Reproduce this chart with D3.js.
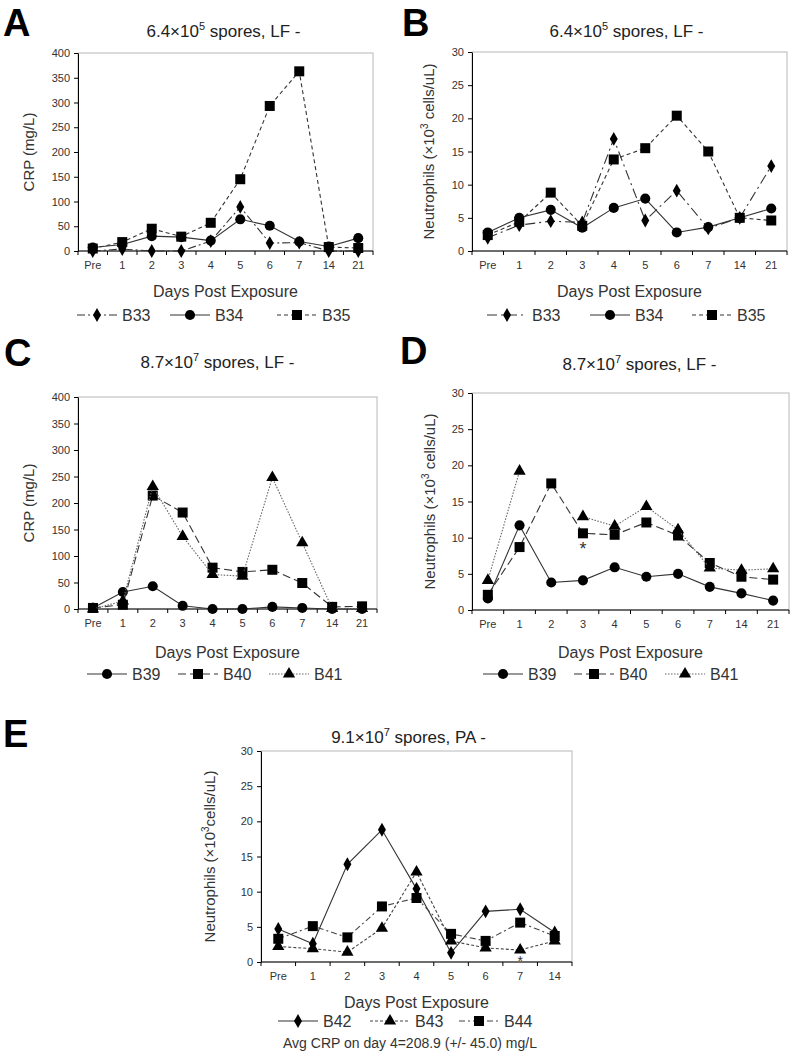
<!DOCTYPE html>
<meta charset="utf-8">
<script src="https://d3js.org/d3.v7.min.js"></script>
<style>
  body { margin: 0; background: #fff; }
  text { font-family: "Liberation Sans", Arial, sans-serif; }
</style>
<div id="chart"></div>
<script>
// categories
var days10 = ["Pre", "1", "2", "3", "4", "5", "6", "7", "14", "21"];
var days9 = ["Pre", "1", "2", "3", "4", "5", "6", "7", "14"];

// A - CRP, 6.4x10^5 spores
var crpB33 = [0, 4, 0, 0, 20, 89, 16, 17, 0, 0];
var crpB34 = [7, 13, 30, 28, 21, 64, 51, 19, 9, 26];
var crpB35 = [5, 18, 45, 29, 57, 145, 293, 363, 8, 6];

// B - neutrophils, 6.4x10^5 spores
var neuB33 = [2.0, 3.9, 4.5, 4.3, 16.9, 4.6, 9.1, 3.4, 5.0, 12.8];
var neuB34 = [2.8, 5.0, 6.2, 3.5, 6.5, 7.9, 2.8, 3.6, 5.0, 6.4];
var neuB35 = [2.4, 4.4, 8.8, 3.8, 13.8, 15.5, 20.4, 15.0, 5.0, 4.6];

// C - CRP, 8.7x10^7 spores
var crpB39 = [2, 32, 43, 6, 0, 0, 4, 2, 0, 0];
var crpB40 = [2, 8, 214, 182, 78, 70, 74, 49, 4, 5];
var crpB41 = [0, 15, 231, 137, 65, 62, 248, 125, 1, 1];

// D - neutrophils, 8.7x10^7 spores
var neuB39 = [1.6, 11.7, 3.8, 4.1, 5.9, 4.6, 5.0, 3.2, 2.3, 1.3];
var neuB40 = [2.1, 8.7, 17.5, 10.6, 10.4, 12.1, 10.3, 6.5, 4.6, 4.2];
var neuB41 = [4.1, 19.2, null, 12.9, 11.6, 14.3, 11.1, 5.8, 5.5, 5.7];

// E - neutrophils, 9.1x10^7 spores, PA
var neuB42 = [4.7, 2.6, 13.9, 18.8, 10.4, 1.3, 7.2, 7.5, 4.2];
var neuB43 = [2.2, 1.9, 1.4, 4.8, 12.8, 3.0, 2.0, 1.7, 3.0];
var neuB44 = [3.3, 5.1, 3.5, 7.9, 9.1, 4.0, 3.0, 5.6, 3.7];

var crpTicks = [0, 50, 100, 150, 200, 250, 300, 350, 400];
var neuTicks = [0, 5, 10, 15, 20, 25, 30];

var svg = d3.select("#chart").append("svg")
  .attr("width", 793)
  .attr("height", 1054);

var symbols = {
  circle: d3.symbol().type(d3.symbolCircle).size(80),
  square: d3.symbol().type(d3.symbolSquare).size(100),
  diamond: d3.symbol().type(d3.symbolDiamond).size(55),
  triangle: d3.symbol().type(d3.symbolTriangle).size(65)
};

function drawPanel(p) {
  var g = svg.append("g");
  var x = d3.scaleBand().domain(p.cats).range([p.left, p.right]);
  var y = d3.scaleLinear().domain([0, d3.max(p.ticks)]).range([p.bottom, p.top]);

  // grey frame
  g.append("rect")
    .attr("x", p.left).attr("y", p.top)
    .attr("width", p.right - p.left).attr("height", p.bottom - p.top)
    .attr("fill", "none").attr("stroke", "#b8b8b8");

  // y axis
  var ya = g.append("g")
    .attr("transform", "translate(" + p.left + ",0)")
    .call(d3.axisLeft(y).tickValues(p.ticks).tickSize(4).tickPadding(4).tickSizeOuter(0));
  ya.selectAll("text").attr("font-size", 11).attr("fill", "#333").style("font-family", "Liberation Sans, Arial, sans-serif");
  ya.select(".domain").attr("stroke", "#000");

  // x axis: labels at the band centres, ticks at band edges
  var xa = g.append("g")
    .attr("transform", "translate(0," + p.bottom + ")")
    .call(d3.axisBottom(x).tickSize(0).tickPadding(10));
  xa.selectAll("text").attr("font-size", 11).attr("fill", "#333").style("font-family", "Liberation Sans, Arial, sans-serif");
  xa.select(".domain").remove();
  g.append("line")
    .attr("x1", p.left).attr("x2", p.right)
    .attr("y1", p.bottom).attr("y2", p.bottom)
    .attr("stroke", "#000");
  var edges = p.cats.map(function(c) { return x(c); }).concat([x(p.cats[p.cats.length - 1]) + x.bandwidth()]);
  g.selectAll(".xt").data(edges).enter().append("line")
    .attr("x1", function(d) { return d; }).attr("x2", function(d) { return d; })
    .attr("y1", p.bottom).attr("y2", p.bottom + 4)
    .attr("stroke", "#000");

  var cx = function(i) { return x(p.cats[i]) + x.bandwidth() / 2; };

  // series lines + markers
  p.series.forEach(function(s) {
    var pts = s.values.map(function(v, i) { return {i: i, v: v}; });
    var line = d3.line()
      .defined(function(d) { return d.v != null; })
      .x(function(d) { return cx(d.i); })
      .y(function(d) { return y(d.v); });
    g.append("path")
      .datum(pts)
      .attr("d", line)
      .attr("fill", "none")
      .attr("stroke", s.color)
      .attr("stroke-width", 1.1)
      .attr("stroke-dasharray", s.dash);
    g.selectAll(null).data(pts.filter(function(d) { return d.v != null; })).enter().append("path")
      .attr("d", symbols[s.marker])
      .attr("transform", function(d) { return "translate(" + cx(d.i) + "," + y(d.v) + ")"; })
      .attr("fill", "#000");
  });

  // asterisks
  (p.stars || []).forEach(function(st) {
    g.append("text")
      .attr("x", cx(p.cats.indexOf(st.day)))
      .attr("y", y(st.value) + st.dy)
      .attr("text-anchor", "middle")
      .attr("font-size", st.size)
      .attr("fill", "#333")
      .text("*");
  });

  // title
  var mid = (p.left + p.right) / 2;
  var t = g.append("text")
    .attr("x", mid + p.titleDx).attr("y", p.titleY)
    .attr("text-anchor", "middle")
    .attr("font-size", 17)
    .attr("fill", "#222");
  t.append("tspan").text(p.title[0] + "\u00d710");
  t.append("tspan").attr("font-size", 11).attr("dy", -7).text(p.title[1]);
  t.append("tspan").attr("dy", 7).text(" " + p.title[2]);

  // panel letter
  g.append("text")
    .attr("x", p.letterX).attr("y", p.letterY)
    .attr("font-size", 38)
    .attr("font-weight", "bold")
    .attr("fill", "#000")
    .text(p.letter);

  // y label
  var yl = g.append("text")
    .attr("transform", "translate(" + p.ylabX + "," + ((p.top + p.bottom) / 2) + ") rotate(-90)")
    .attr("text-anchor", "middle")
    .attr("font-size", 15)
    .attr("fill", "#333");
  if (p.ylab.length === 1) {
    yl.text(p.ylab[0]);
  } else {
    yl.append("tspan").text(p.ylab[0]);
    yl.append("tspan").attr("font-size", 10).attr("dy", -6).text(p.ylab[1]);
    yl.append("tspan").attr("dy", 6).text(p.ylab[2]);
  }

  // x label
  g.append("text")
    .attr("x", mid).attr("y", p.xlabY)
    .attr("text-anchor", "middle")
    .attr("font-size", 16)
    .attr("fill", "#333")
    .text("Days Post Exposure");

  // legend
  p.series.forEach(function(s, k) {
    var lx = p.legX[k], ly = p.legY;
    g.append("line")
      .attr("x1", lx).attr("x2", lx + 40)
      .attr("y1", ly).attr("y2", ly)
      .attr("stroke", s.color)
      .attr("stroke-width", 1.1)
      .attr("stroke-dasharray", s.dash);
    g.append("path")
      .attr("d", symbols[s.marker])
      .attr("transform", "translate(" + (lx + 20) + "," + ly + ")")
      .attr("fill", "#000");
    g.append("text")
      .attr("x", lx + 45).attr("y", ly + 6)
      .attr("font-size", 16)
      .attr("fill", "#333")
      .text(s.name);
  });
}

var solid = null, dashDot = "8,3,2,3", shortDash = "4,3", longDash = "8,4", dotted = "1.5,1.5";

drawPanel({
  letter: "A", letterX: 3, letterY: 36,
  cats: days10, ticks: crpTicks,
  left: 78, right: 373, top: 53, bottom: 251,
  title: ["6.4", "5", "spores, LF -"], titleY: 37, titleDx: -2,
  ylab: ["CRP (mg/L)"], ylabX: 34, xlabY: 297,
  legX: [77, 170, 277], legY: 315,
  series: [
    {name: "B33", values: crpB33, marker: "diamond", dash: dashDot, color: "#333"},
    {name: "B34", values: crpB34, marker: "circle", dash: solid, color: "#333"},
    {name: "B35", values: crpB35, marker: "square", dash: shortDash, color: "#333"}
  ]
});

drawPanel({
  letter: "B", letterX: 402, letterY: 36,
  cats: days10, ticks: neuTicks,
  left: 472, right: 787, top: 52, bottom: 251,
  title: ["6.4", "5", "spores, LF -"], titleY: 37, titleDx: -3,
  ylab: ["Neutrophils  (\u00d710", "3", "  cells/uL)"], ylabX: 434, xlabY: 297,
  legX: [487, 590, 692], legY: 315,
  series: [
    {name: "B33", values: neuB33, marker: "diamond", dash: "10,4,2,4", color: "#333"},
    {name: "B34", values: neuB34, marker: "circle", dash: solid, color: "#333"},
    {name: "B35", values: neuB35, marker: "square", dash: shortDash, color: "#333"}
  ]
});

drawPanel({
  letter: "C", letterX: 4, letterY: 366,
  cats: days10, ticks: crpTicks,
  left: 78, right: 377, top: 397, bottom: 609,
  title: ["8.7", "7", "spores, LF -"], titleY: 368, titleDx: -10,
  ylab: ["CRP (mg/L)"], ylabX: 34, xlabY: 658,
  legX: [87, 178, 269], legY: 674,
  series: [
    {name: "B39", values: crpB39, marker: "circle", dash: solid, color: "#333"},
    {name: "B40", values: crpB40, marker: "square", dash: longDash, color: "#333"},
    {name: "B41", values: crpB41, marker: "triangle", dash: dotted, color: "#666"}
  ]
});

drawPanel({
  letter: "D", letterX: 400, letterY: 364,
  cats: days10, ticks: neuTicks,
  left: 472, right: 789, top: 393, bottom: 610,
  title: ["8.7", "7", "spores, LF -"], titleY: 370, titleDx: 9,
  ylab: ["Neutrophils (\u00d710", "3", "  cells/uL)"], ylabX: 435, xlabY: 658,
  legX: [483, 574, 665], legY: 674,
  series: [
    {name: "B39", values: neuB39, marker: "circle", dash: solid, color: "#333"},
    {name: "B40", values: neuB40, marker: "square", dash: longDash, color: "#333"},
    {name: "B41", values: neuB41, marker: "triangle", dash: dotted, color: "#666"}
  ],
  stars: [{day: "3", value: 10.6, dy: 22, size: 18}]
});

drawPanel({
  letter: "E", letterX: 3, letterY: 747,
  cats: days9, ticks: neuTicks,
  left: 261, right: 572, top: 751, bottom: 962,
  title: ["9.1", "7", "spores, PA -"], titleY: 743, titleDx: -8,
  ylab: ["Neutrophils (\u00d710", "3", "cells/uL)"], ylabX: 215, xlabY: 1008,
  legX: [278, 370, 459], legY: 1021,
  series: [
    {name: "B42", values: neuB42, marker: "diamond", dash: solid, color: "#333"},
    {name: "B43", values: neuB43, marker: "triangle", dash: "3,2", color: "#444"},
    {name: "B44", values: neuB44, marker: "square", dash: "6,3,2,3", color: "#444"}
  ],
  stars: [{day: "7", value: 0, dy: 4, size: 14}]
});

svg.append("text")
  .attr("x", 410).attr("y", 1048)
  .attr("text-anchor", "middle")
  .attr("font-size", 14)
  .attr("fill", "#333")
  .text("Avg CRP on day 4=208.9 (+/- 45.0) mg/L");
</script>
